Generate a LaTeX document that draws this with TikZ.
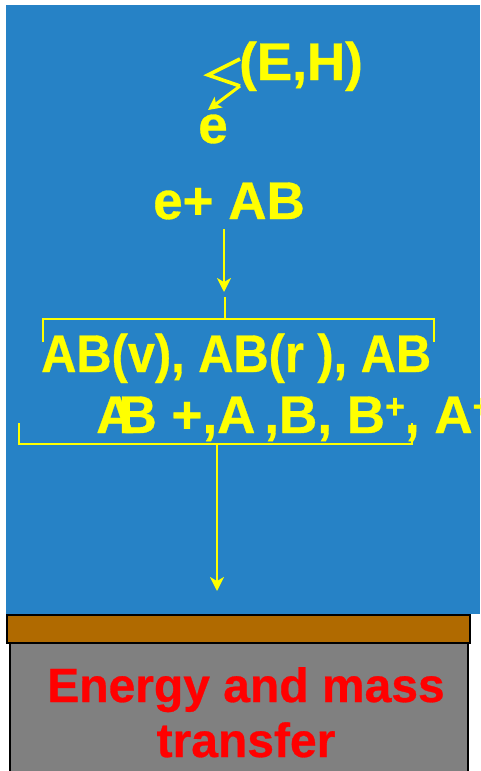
\documentclass[tikz,border=0pt]{standalone}
\usepackage{fontspec}
\setmainfont[BoldFeatures={FakeBold=0.6}]{Liberation Sans}
\usetikzlibrary{arrows.meta}
\definecolor{bgblue}{RGB}{38,130,198}
\definecolor{ylw}{RGB}{255,255,0}
\definecolor{brn}{RGB}{176,106,0}
\definecolor{gry}{RGB}{128,128,128}
\definecolor{rd}{RGB}{255,0,0}
\newcommand{\supplus}{\raisebox{15pt}{\fontsize{34}{34}\selectfont +}}
\begin{document}
\begin{tikzpicture}[x=1pt,y=-1pt,
  ytext/.style={text=ylw,font=\fontsize{53}{60}\selectfont\bfseries,inner sep=0pt},
  rtext/.style={text=rd,font=\fontsize{48}{55}\selectfont\bfseries,inner sep=0pt,align=center},
  yline/.style={draw=ylw,line width=2pt},
  yarrow/.style={draw=ylw,line width=2pt,-{Stealth[length=14pt,width=14pt,inset=4pt]}}]
\useasboundingbox (0,0) rectangle (480,771);
\fill[white] (0,0) rectangle (480,771);
\fill[bgblue] (6,5) rectangle (480,614);
% bottom layers
\draw[fill=brn,line width=2.2pt] (7,615) rectangle (470,643);
\draw[fill=gry,line width=2.2pt] (10,643) rectangle (468,775);
% texts
\node[ytext,anchor=base west] (eh) at (239,80) {(E,H)};
\node[ytext,anchor=base] (e) at (213,143) {e};
\node[ytext,anchor=base west] (eab) at (153,219) {e+ AB};
\node[ytext,anchor=base west] (l1) at (41,372) {\scalebox{0.92}[1]{AB(v), AB(r ), AB}};
\node[ytext,anchor=base west] (l2) at (96,433) {A\kern-0.3em B +,A\,,B, B\supplus, A\supplus};
\node[rtext,anchor=base] (t1) at (246,702) {Energy and mass};
\node[rtext,anchor=base] (t2) at (246,757) {transfer};
% zigzag arrow from (E,H) to e
\coordinate (z1) at (240,59);
\coordinate (z2) at (208,75);
\coordinate (z3) at (240,86);
\coordinate (z4) at (208,110);
\draw[draw=ylw,line width=3.6pt,line join=miter] (z1) -- (z2) -- (z3);
\draw[draw=ylw,line width=3pt,-{Stealth[length=13pt,width=13pt,inset=3pt]}] (z3) -- (z4);
% arrow e+AB to bracket
\coordinate (a1) at (224,229);
\coordinate (a2) at (224,292);
\draw[yarrow] (a1) -- (a2);
% upper bracket
\coordinate (b0) at (225,297);
\coordinate (b1) at (225,319);
\coordinate (bl) at (43,342);
\coordinate (br) at (434,342);
\draw[yline] (b0) -- (b1);
\draw[yline] (bl) |- (b1) -| (br);
% lower bracket
\coordinate (c1) at (217,444);
\coordinate (cl) at (19,423);
\coordinate (cr) at (412,423);
\draw[yline] (cl) |- (c1) -| (cr);
\coordinate (c2) at (217,591);
\draw[yarrow] (c1) -- (c2);
\end{tikzpicture}
\end{document}
